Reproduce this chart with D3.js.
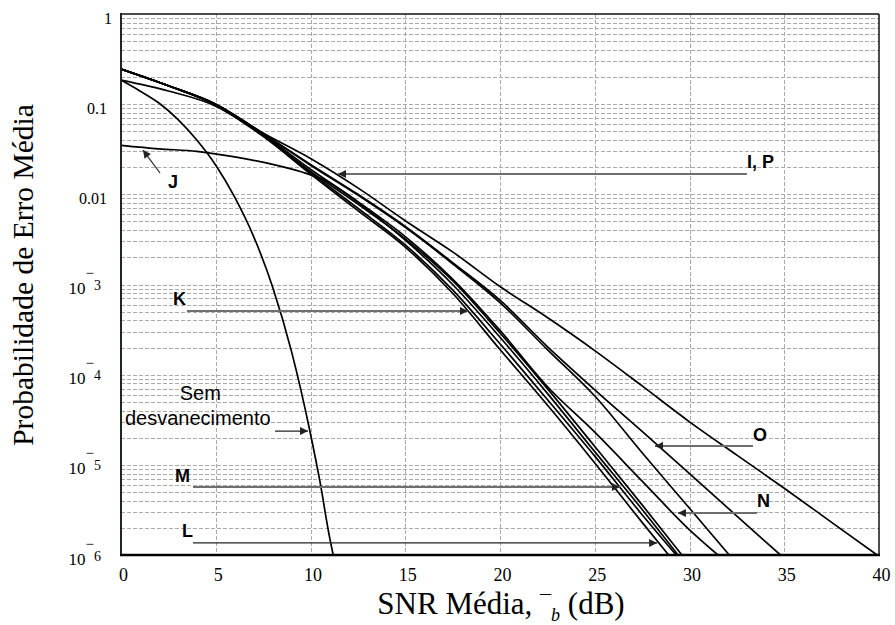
<!DOCTYPE html>
<html>
<head>
<meta charset="utf-8">
<script src="https://cdn.jsdelivr.net/npm/d3@7"></script>
<style>
body { margin: 0; background: #fff; }
</style>
</head>
<body>
<svg id="chart" width="895" height="625"></svg>
<script>
// axis ticks
const snrTicks = [0, 5, 10, 15, 20, 25, 30, 35, 40]
const pbTicks = [1, 0.1, 0.01, 1e-3, 1e-4, 1e-5, 1e-6]
const pbTickBase = ['1', '0.1', '0.01', '10', '10', '10', '10']
const pbTickExp = [null, null, null, '3', '4', '5', '6']

// curves: [SNR dB, Pb]
const noFading = [[0,0.185],[1,0.14],[2,0.103],[3,0.068],[4,0.04],[5,0.021],[6,0.0093],[7,0.0034],[8,9.4e-4],[9,1.8e-4],[10,2.2e-5],[10.5,6.5e-6],[11,1.6e-6],[11.2,1e-6]]
const curveL = [[0,0.185],[2.5,0.14],[5,0.095],[7.5,0.044],[10,0.0168],[12.5,0.0066],[15,2.6e-3],[17.5,8e-4],[20,1.9e-4],[22.5,4.6e-5],[25,1.05e-5],[27.5,2.3e-6],[28.9,1e-6]]
const curveM = [[0,0.245],[2.5,0.16],[5,0.098],[7.5,0.045],[10,0.0175],[12.5,0.007],[15,2.75e-3],[17.5,8.7e-4],[20,2.2e-4],[22.5,5.3e-5],[25,1.25e-5],[27.5,2.8e-6],[29.3,1e-6]]
const curveK = [[0,0.245],[2.5,0.16],[5,0.098],[7.5,0.045],[10,0.018],[12.5,0.0078],[15,3.2e-3],[17.5,1.1e-3],[20,2.9e-4],[22.5,7e-5],[25,1.6e-5],[27.5,3.6e-6],[29.6,1e-6]]
const curveJ = [[0,0.035],[2,0.032],[4,0.03],[6,0.026],[8,0.0215],[9.5,0.0178],[10.7,0.0145],[12.5,0.0082],[15,3.1e-3],[17.5,1e-3],[20,2.6e-4],[22.5,6.2e-5],[25,1.4e-5],[27.5,3.2e-6],[29.4,1e-6]]
const curveN = [[0,0.245],[2.5,0.16],[5,0.099],[7.5,0.046],[10,0.019],[12.5,0.0083],[15,3.4e-3],[17.5,1.15e-3],[20,3.1e-4],[22.5,7.4e-5],[25,2.3e-5],[27.5,6.6e-6],[30,1.9e-6],[31.5,1e-6]]
const curveI = [[0,0.245],[2.5,0.16],[5,0.1],[7.5,0.047],[10,0.021],[12.5,0.0098],[15,4.3e-3],[17.5,1.7e-3],[20,6.3e-4],[22.5,1.9e-4],[25,5.8e-5],[27.5,1.36e-5],[30,3.3e-6],[32.1,1e-6]]
const curveO = [[0,0.245],[2.5,0.16],[5,0.1],[7.5,0.047],[10,0.0215],[12.5,0.01],[15,4.4e-3],[17.5,1.75e-3],[20,6.7e-4],[22.5,2.05e-4],[25,6.8e-5],[27.5,2.35e-5],[30,8e-6],[32.5,2.7e-6],[34.8,1e-6]]
const curveP = [[0,0.245],[2.5,0.16],[5,0.1],[7.5,0.048],[10,0.025],[12.5,0.0118],[15,5.1e-3],[17.5,2.3e-3],[20,9.5e-4],[22.5,4.3e-4],[25,1.85e-4],[27.5,7.5e-5],[30,3e-5],[32.5,1.28e-5],[35,5.5e-6],[37.5,2.3e-6],[39.9,1e-6]]

// labels and arrows, in data units
const annLabels = ['I, P', 'J', 'K', 'M', 'L', 'O', 'N']
const annText = [[33.03,0.0196],[2.48,0.01175],[2.74,5.93e-4],[2.85,6.45e-6],[3.22,1.58e-6],[33.35,1.84e-5],[33.56,3.41e-6]]
const annFrom = [[33.03,0.0168],[2.06,0.01725],[3.48,5.08e-4],[3.8,5.68e-6],[3.8,1.36e-6],[33.35,1.62e-5],[33.56,2.92e-6]]
const annTo = [[11.45,0.0168],[1.16,0.031],[18.31,5.08e-4],[26.33,5.68e-6],[28.29,1.36e-6],[28.18,1.62e-5],[29.39,2.92e-6]]
const thinArrows = ['J', 'L']
const semText = [[3.1,5.24e-5],[0.21,2.77e-5]]
const semArrow = [[8.13,2.37e-5],[9.87,2.37e-5]]

const svg = d3.select('#chart')
const x = d3.scaleLinear().domain([0, 40]).range([121, 879])
const y = d3.scaleLog().domain([1e-6, 1]).range([555, 14])
const serif = '"Liberation Serif", "Times New Roman", serif'
const sans = '"Liberation Sans", Arial, sans-serif'

const defs = svg.append('defs')
defs.append('marker').attr('id', 'head')
	.attr('viewBox', '0 0 10 10').attr('refX', 10).attr('refY', 5)
	.attr('markerUnits', 'userSpaceOnUse').attr('markerWidth', 9).attr('markerHeight', 8)
	.attr('orient', 'auto')
	.append('path').attr('d', 'M0,0L10,5L0,10z').attr('fill', '#222')
defs.append('clipPath').attr('id', 'plotclip')
	.append('rect').attr('x', 121).attr('y', 14).attr('width', 758).attr('height', 541)

// grid
var gridVals = []
for (var d = -6; d < 0; d++) {
	for (var m = 1; m <= 9; m++) {
		if (d === -6 && m === 1) continue
		gridVals.push(m * Math.pow(10, d))
	}
}
var grid = svg.append('g').attr('stroke', '#aaa').attr('stroke-width', 1).attr('stroke-dasharray', '4,2')
grid.selectAll('.hg').data(gridVals).join('line')
	.attr('x1', x(0)).attr('x2', x(40))
	.attr('y1', v => Math.round(y(v)) + 0.5).attr('y2', v => Math.round(y(v)) + 0.5)
grid.selectAll('.vg').data(snrTicks.slice(1, -1)).join('line')
	.attr('x1', v => Math.round(x(v)) + 0.5).attr('x2', v => Math.round(x(v)) + 0.5)
	.attr('y1', y(1)).attr('y2', y(1e-6))

// curves
var line = d3.line().x(d => x(d[0])).y(d => y(d[1])).curve(d3.curveMonotoneX)
var allCurves = [curveP, curveO, curveI, curveN, curveJ, curveK, curveM, curveL, noFading]
svg.append('g').attr('clip-path', 'url(#plotclip)')
	.selectAll('path').data(allCurves).join('path')
	.attr('d', line).attr('fill', 'none').attr('stroke', '#000').attr('stroke-width', 1.7)

// frame
svg.append('line').attr('x1', x(0)).attr('x2', x(40)).attr('y1', y(1)).attr('y2', y(1)).attr('stroke', '#111').attr('stroke-width', 1.5)
svg.append('line').attr('x1', x(40)).attr('x2', x(40)).attr('y1', y(1)).attr('y2', y(1e-6)).attr('stroke', '#111').attr('stroke-width', 1.5)
svg.append('line').attr('x1', x(0)).attr('x2', x(0)).attr('y1', y(1) - 1).attr('y2', y(1e-6)).attr('stroke', '#1a2a1a').attr('stroke-width', 2)
svg.append('line').attr('x1', x(0) - 1).attr('x2', x(40) + 1).attr('y1', y(1e-6)).attr('y2', y(1e-6)).attr('stroke', '#000').attr('stroke-width', 2.5)

// x tick labels
var xAxis = d3.axisBottom(x).tickValues(snrTicks).tickSize(0).tickPadding(13).tickFormat(d3.format('d'))
var gx = svg.append('g').attr('transform', 'translate(2,' + y(1e-6) + ')').call(xAxis)
gx.select('.domain').remove()
gx.selectAll('text').attr('font-family', serif).attr('font-size', 18).attr('fill', '#000')

// y tick labels
var gy = svg.append('g').attr('font-family', serif).attr('fill', '#000')
pbTicks.forEach((v, i) => {
	var t = gy.append('text').attr('text-anchor', 'end').attr('font-size', 16)
	if (pbTickExp[i] === null) {
		t.attr('x', i === 0 ? 112 : 107).attr('y', y(v) + 9.5).text(pbTickBase[i])
	} else {
		t.attr('x', 101).attr('y', y(v) + 9.5).attr('font-size', 17)
		t.append('tspan').text(pbTickBase[i])
		t.append('tspan').attr('font-size', 15).attr('dy', -16).text('\u2212')
		t.append('tspan').attr('font-size', 14).attr('dy', 12).text(pbTickExp[i])
	}
})

// axis titles
svg.append('text')
	.attr('transform', 'translate(33,275) rotate(-90)')
	.attr('text-anchor', 'middle')
	.attr('font-family', serif).attr('font-size', 29.5)
	.text('Probabilidade de Erro Média')
var xt = svg.append('text').attr('x', 501).attr('y', 614).attr('text-anchor', 'middle')
	.attr('font-family', serif).attr('font-size', 31)
xt.append('tspan').text('SNR Média, ')
xt.append('tspan').attr('font-size', 22).attr('dy', -4).text('\u00af')
xt.append('tspan').attr('font-size', 18).attr('font-style', 'italic').attr('dy', 11).text('b')
xt.append('tspan').attr('dy', -7).text(' (dB)')

// annotations
var ann = svg.append('g')
annLabels.forEach((lab, i) => {
	var thin = thinArrows.indexOf(lab) >= 0
	ann.append('line')
		.attr('x1', x(annFrom[i][0])).attr('y1', y(annFrom[i][1]))
		.attr('x2', x(annTo[i][0])).attr('y2', y(annTo[i][1]))
		.attr('stroke', thin ? '#222' : '#6e6e6e').attr('stroke-width', thin ? 1.2 : 2)
		.attr('marker-end', 'url(#head)')
	ann.append('text').attr('x', x(annText[i][0])).attr('y', y(annText[i][1]))
		.attr('font-family', sans).attr('font-weight', 'bold').attr('font-size', 18)
		.text(lab)
})
ann.append('text').attr('x', x(semText[0][0])).attr('y', y(semText[0][1]))
	.attr('font-family', sans).attr('font-size', 20).text('Sem')
ann.append('text').attr('x', x(semText[1][0])).attr('y', y(semText[1][1]))
	.attr('font-family', sans).attr('font-size', 20).text('desvanecimento')
ann.append('line')
	.attr('x1', x(semArrow[0][0])).attr('y1', y(semArrow[0][1]))
	.attr('x2', x(semArrow[1][0])).attr('y2', y(semArrow[1][1]))
	.attr('stroke', '#222').attr('stroke-width', 1.2).attr('marker-end', 'url(#head)')
</script>
</body>
</html>
